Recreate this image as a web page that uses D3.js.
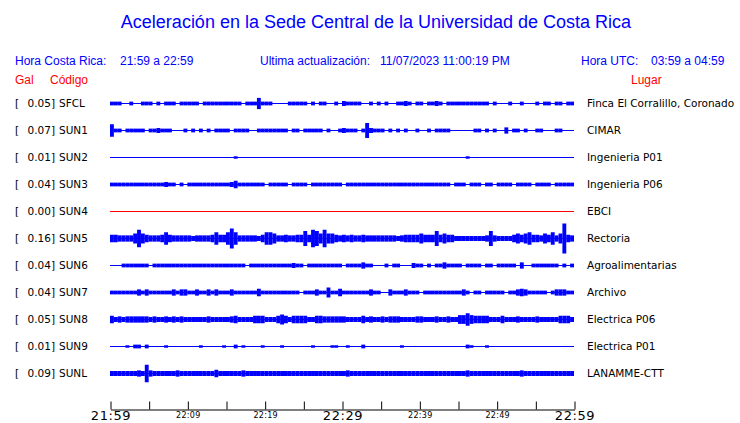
<!doctype html>
<html lang="es">
<head>
  <meta charset="utf-8">
  <title>Aceleración UCR</title>
  <style>
    body { margin: 0; background: #fff; }
    svg { display: block; }
    .head { font-family: "Liberation Sans", Arial, sans-serif; font-size: 12px; }
    .lbl { font-family: "DejaVu Sans", sans-serif; font-size: 10.5px; fill: #000; }
    .axis path, .axis line { stroke: #000; }
  </style>
</head>
<body>
<div id="chart"></div>
<script src="https://d3js.org/d3.v7.min.js"></script>
<script>
(function() {

  var width = 740, height = 423;

  // stations, top to bottom
  var codes  = ["SFCL", "SUN1", "SUN2", "SUN3", "SUN4", "SUN5", "SUN6", "SUN7", "SUN8", "SUN9", "SUNL"];
  var gals   = ["0.05", "0.07", "0.01", "0.04", "0.00", "0.16", "0.04", "0.04", "0.05", "0.01", "0.09"];
  var places = ["Finca El Corralillo, Coronado", "CIMAR", "Ingenieria P01", "Ingenieria P06", "EBCI",
                "Rectoria", "Agroalimentarias", "Archivo", "Electrica P06", "Electrica P01", "LANAMME-CTT"];
  var colors = ["#0000ff", "#0000ff", "#0000ff", "#0000ff", "#ff0000", "#0000ff",
                "#0000ff", "#0000ff", "#0000ff", "#0000ff", "#0000ff"];

  // peak amplitude per 30 s window (relative counts)
  var SFCL = [3,3,3,0,0,3,0,0,3,3, 3,0,3,0,3,3,3,0,3,3, 3,3,3,0,3,3,3,3,3,3, 3,3,3,3,0,3,3,3,9,3,
              3,3,0,0,0,0,3,3,3,3, 3,0,3,0,3,3,0,0,3,0, 4,3,3,3,3,0,0,3,0,3, 0,3,0,0,3,3,4,3,0,3,
              3,0,3,3,4,3,0,3,3,3, 3,3,3,3,3,3,3,3,0,3, 0,0,0,3,0,0,3,0,0,0, 3,0,3,3,0,3,3,0,3,3];
  var SUN1 = [10,3,3,0,3,3,3,3,3,0, 3,3,4,3,3,3,0,0,0,3, 0,3,0,3,0,3,0,3,3,3, 3,0,3,3,3,3,0,0,3,3,
              3,3,3,3,3,3,0,3,3,0, 3,3,3,3,3,0,3,0,0,3, 4,3,3,3,0,3,12,4,3,3, 3,0,3,0,3,0,3,0,0,3,
              0,0,3,0,3,3,3,3,0,0, 0,0,0,0,3,3,0,3,0,3, 0,0,5,0,3,3,0,3,0,0, 3,3,0,0,0,3,3,0,0,0];
  var SUN2 = [0,0,0,0,0,0,0,0,0,0, 0,0,0,0,0,0,0,0,0,0, 0,0,0,0,0,0,0,0,0,0, 0,0,2,0,0,0,0,0,0,0,
              0,0,0,0,0,0,0,0,0,0, 0,0,0,0,0,0,0,0,0,0, 0,0,0,0,0,0,0,0,0,0, 0,0,0,0,0,0,0,0,0,0,
              0,0,0,0,0,0,0,0,0,0, 0,0,2,0,0,0,0,0,0,0, 0,0,0,0,0,0,0,0,0,0, 0,0,0,0,0,0,0,0,0,0];
  var SUN3 = [3,3,3,3,3,3,3,3,3,3, 3,3,3,3,4,3,3,0,3,0, 3,3,3,3,3,3,3,3,3,3, 3,4,6,3,3,3,3,3,3,3,
              0,3,3,3,3,3,0,3,3,3, 3,0,3,3,3,3,3,3,3,3, 0,3,3,3,3,3,3,3,3,3, 3,3,3,3,3,3,3,3,3,3,
              3,3,3,3,3,3,3,3,0,3, 3,3,0,3,3,3,0,3,3,0, 3,3,3,3,0,3,3,3,3,0, 3,3,3,3,0,3,3,3,3,3];
  var SUN4 = [0,0,0,0,0,0,0,0,0,0, 0,0,0,0,0,0,0,0,0,0, 0,0,0,0,0,0,0,0,0,0, 0,0,0,0,0,0,0,0,0,0,
              0,0,0,0,0,0,0,0,0,0, 0,0,0,0,0,0,0,0,0,0, 0,0,0,0,0,0,0,0,0,0, 0,0,0,0,0,0,0,0,0,0,
              0,0,0,0,0,0,0,0,0,0, 0,0,0,0,0,0,0,0,0,0, 0,0,0,0,0,0,0,0,0,0, 0,0,0,0,0,0,0,0,0,0];
  var SUN5 = [6,6,5,5,5,5,8,14,8,6, 5,5,5,6,10,6,5,5,5,5, 5,4,5,5,5,5,6,10,6,6, 10,16,10,5,5,5,5,5,4,6,
              10,10,8,5,5,6,5,5,6,6, 12,6,14,12,8,14,8,8,6,5, 6,5,6,5,5,6,5,5,5,5, 5,5,5,5,4,5,6,6,6,6,
              8,6,6,6,12,6,8,6,6,4, 4,4,4,4,4,4,4,5,12,5, 4,4,4,4,6,8,6,8,10,6, 6,5,8,6,10,5,8,24,6,5];
  var SUN6 = [0,0,0,3,3,3,3,3,3,3, 0,3,3,3,3,3,3,3,3,3, 3,3,3,3,3,3,3,3,3,3, 3,3,3,3,3,0,3,3,3,3,
              3,3,3,3,3,3,3,4,3,3, 0,3,3,3,3,3,3,3,3,3, 0,3,3,3,3,5,3,3,0,0, 0,3,0,3,3,0,0,0,4,3,
              3,0,3,0,3,3,5,3,3,3, 3,0,3,3,3,3,0,3,3,0, 3,3,3,3,3,0,5,0,0,3, 3,3,3,3,3,3,0,3,0,3];
  var SUN7 = [3,3,3,3,3,3,3,5,3,5, 3,3,3,3,3,3,5,3,5,5, 3,3,5,3,3,5,3,5,3,3, 3,5,3,3,3,3,3,3,6,3,
              3,3,3,3,3,3,3,3,3,0, 3,3,3,5,3,3,8,3,3,6, 3,3,3,3,3,3,3,5,3,3, 0,0,5,3,3,3,5,3,3,3,
              0,3,3,3,3,3,3,3,3,3, 3,5,3,0,3,3,0,3,3,3, 3,3,0,3,3,5,6,5,3,3, 3,3,3,0,3,5,5,5,3,3];
  var SUN8 = [6,4,5,4,5,5,5,5,5,5, 4,5,4,4,5,4,5,4,5,4, 4,4,4,4,4,5,4,4,4,4, 4,5,6,4,4,4,4,6,6,6,
              4,4,4,6,8,6,4,6,6,6, 6,4,4,6,6,5,5,5,5,5, 5,4,4,4,4,6,4,5,4,4, 5,4,5,5,5,4,4,4,4,5,
              5,4,4,4,5,4,4,5,4,4, 7,7,10,7,6,6,6,6,4,4, 4,6,4,4,4,5,4,4,4,4, 5,4,4,4,4,4,6,6,6,4];
  var SUN9 = [0,0,0,0,2,0,3,3,0,3, 0,0,0,0,2,0,0,0,0,0, 0,0,0,2,0,0,0,0,0,2, 0,0,3,0,2,0,0,0,0,2,
              0,0,0,0,2,0,0,0,0,0, 0,0,2,0,0,0,0,2,2,0, 0,2,0,0,0,3,0,0,0,0, 0,0,0,0,0,2,0,0,0,0,
              0,0,0,0,0,0,0,0,0,0, 0,0,3,2,0,0,0,2,0,0, 0,0,0,0,0,0,0,0,0,0, 0,0,0,0,0,0,0,0,0,0];
  var SUNL = [4,4,4,4,4,4,4,5,4,14, 5,4,4,4,4,4,4,5,4,4, 4,4,4,4,4,4,4,6,4,4, 4,4,4,4,5,4,4,4,4,4,
              4,4,4,4,4,4,4,4,4,4, 4,4,4,4,4,4,4,4,4,4, 4,5,4,4,4,4,4,4,4,4, 4,4,4,4,4,4,4,4,4,4,
              4,4,4,4,4,4,4,4,4,4, 4,4,5,4,4,4,4,4,4,4, 4,4,4,4,4,4,5,4,4,4, 4,4,4,4,4,4,4,4,4,4];
  var traces = [SFCL, SUN1, SUN2, SUN3, SUN4, SUN5, SUN6, SUN7, SUN8, SUN9, SUNL];

  var tStart = new Date(2023, 10, 7, 21, 59);
  var tEnd   = new Date(2023, 10, 7, 22, 59);
  var binSec = 30;
  var bigTicks = ["21:59", "22:29", "22:59"];

  var svg = d3.select("#chart").append("svg")
      .attr("width", width)
      .attr("height", height);

  var x = d3.scaleTime().domain([tStart, tEnd]).range([110, 574]);
  var y = d3.scalePoint().domain(codes).range([103, 373]);
  var amp = d3.scaleLinear().domain([0, 24]).range([0, 15]);

  // title + header
  svg.append("text")
    .attr("x", 376).attr("y", 28)
    .attr("text-anchor", "middle")
    .style("font-family", "'Liberation Sans', Arial, sans-serif")
    .style("font-size", "18px")
    .attr("fill", "#0000ff")
    .text("Aceleración en la Sede Central de la Universidad de Costa Rica");

  var head = [
    [15, 65, "#0000ff", "Hora Costa Rica:"],
    [120, 65, "#0000ff", "21:59 a 22:59"],
    [260, 65, "#0000ff", "Ultima actualización:"],
    [380, 65, "#0000ff", "11/07/2023 11:00:19 PM"],
    [581, 65, "#0000ff", "Hora UTC:"],
    [651, 65, "#0000ff", "03:59 a 04:59"],
    [15, 84, "#ff0000", "Gal"],
    [50, 84, "#ff0000", "Código"],
    [631, 84, "#ff0000", "Lugar"]
  ];
  svg.selectAll("text.head").data(head).enter().append("text")
    .attr("class", "head")
    .attr("x", function(d) { return d[0]; })
    .attr("y", function(d) { return d[1]; })
    .attr("fill", function(d) { return d[2]; })
    .text(function(d) { return d[3]; });

  // labels
  var rows = svg.selectAll("g.row").data(codes).enter().append("g")
    .attr("class", "row")
    .attr("transform", function(d) { return "translate(0," + (Math.round(y(d)) + 0.5) + ")"; });

  rows.append("text").attr("class", "lbl").attr("x", 15).attr("y", 3.5).text("[");
  rows.append("text").attr("class", "lbl").attr("x", 55).attr("y", 3.5)
    .attr("text-anchor", "end")
    .text(function(d, i) { return gals[i] + "]"; });
  rows.append("text").attr("class", "lbl").attr("x", 59).attr("y", 3.5).text(function(d) { return d; });
  rows.append("text").attr("class", "lbl").attr("x", 587).attr("y", 3.5)
    .text(function(d, i) { return places[i]; });

  // traces: base line + one block per window
  rows.append("line")
    .attr("x1", x(tStart)).attr("x2", x(tEnd))
    .attr("stroke", function(d, i) { return colors[i]; })
    .attr("stroke-width", 1);

  rows.each(function(code, i) {
    var g = d3.select(this);
    var bins = traces[i].map(function(v, k) {
      return { t0: d3.timeSecond.offset(tStart, k * binSec), t1: d3.timeSecond.offset(tStart, (k + 1) * binSec), v: v };
    }).filter(function(b) { return b.v > 0; });
    g.selectAll("rect").data(bins).enter().append("rect")
      .attr("x", function(b) { return x(b.t0); })
      .attr("width", function(b) { return x(b.t1) - x(b.t0); })
      .attr("y", function(b) { return -amp(b.v); })
      .attr("height", function(b) { return 2 * amp(b.v); })
      .attr("fill", colors[i]);
  });

  // time axis, one tick every 5 minutes from 21:59
  var fmt = d3.timeFormat("%H:%M");
  var axis = d3.axisBottom(x)
    .tickValues(d3.timeMinute.range(tStart, d3.timeMinute.offset(tEnd, 1), 5))
    .tickFormat(function(d, i) { return (i % 2 === 0) ? fmt(d) : ""; })
    .tickSizeInner(-8)
    .tickSizeOuter(0);

  var ax = svg.append("g")
    .attr("class", "axis")
    .attr("transform", "translate(0.5,409.5)")
    .call(axis);

  ax.select(".domain").attr("stroke", "#000");
  ax.selectAll(".tick text")
    .attr("fill", "#000")
    .attr("dy", null)
    .style("font-family", "'DejaVu Sans', sans-serif")
    .style("font-size", function(d) { return bigTicks.indexOf(fmt(d)) >= 0 ? "13px" : "8px"; })
    .style("letter-spacing", function(d) { return bigTicks.indexOf(fmt(d)) >= 0 ? "0.6px" : "0.3px"; })
    .attr("y", function(d) { return bigTicks.indexOf(fmt(d)) >= 0 ? 10 : 8; });

})();
</script>
</body>
</html>
